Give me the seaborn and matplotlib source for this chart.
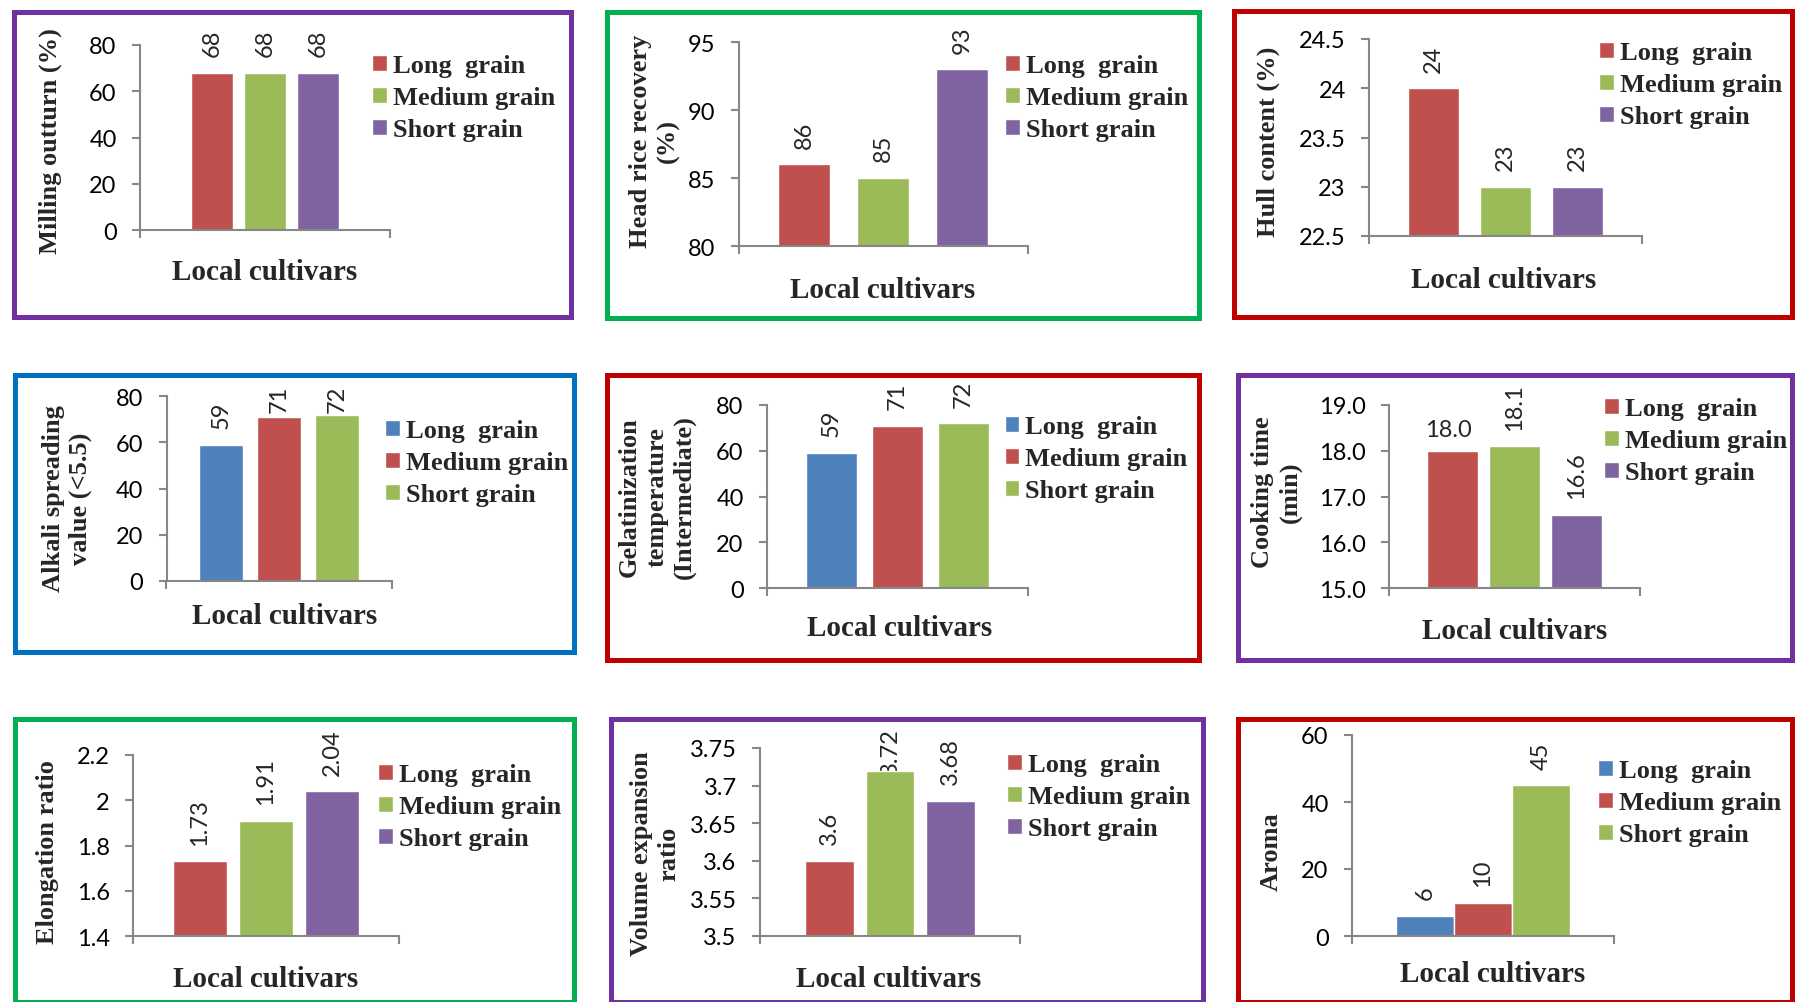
import numpy as np
import pandas as pd
import matplotlib
matplotlib.use("Agg")
import matplotlib.pyplot as plt
from matplotlib.patches import Rectangle
import seaborn as sns

# ---------------------------------------------------------------- data
grain_types = ["Long  grain", "Medium grain", "Short grain"]
cultivar = "Local cultivars"

milling_outturn = [68, 68, 68]
head_rice_recovery = [86, 85, 93]
hull_content = [24, 23, 23]
alkali_spreading = [59, 71, 72]
gelatinization_temp = [59, 71, 72]
cooking_time = [18.0, 18.1, 16.6]
elongation_ratio = [1.73, 1.91, 2.04]
volume_expansion = [3.60, 3.72, 3.68]
aroma = [6, 10, 45]

# ---------------------------------------------------------------- style
W, H, DPI = 1795, 1003, 100
RED, GREEN, PURPLE, BLUE = "#C0504D", "#9BBB59", "#8064A2", "#4F81BD"
PAL_A = [RED, GREEN, PURPLE]
PAL_B = [BLUE, RED, GREEN]
FR_PURPLE, FR_GREEN, FR_RED, FR_BLUE = "#7030A0", "#00B050", "#C00000", "#0070C0"
AXIS_GREY = "#878787"

sns.set_style("white")
plt.rcParams["font.family"] = ["Lato", "DejaVu Sans"]
SERIF = dict(family=["Liberation Serif", "DejaVu Serif"], weight="bold")

# geometry in pixels (x from left, y from top)
panels = [
    dict(values=milling_outturn, ylabel="Milling outturn (%)", pal=PAL_A,
         yr=(0, 80, 20), tfmt="{:g}", lfmt="{:g}", frame=(14, 13, 571, 318), fc=FR_PURPLE,
         ax=(140, 46, 390, 231), width=0.636, gap=0.21, leg=(372, 65),
         ylab=(50.5, 141.5), xlab=(265, 273)),
    dict(values=head_rice_recovery, ylabel="Head rice recovery\n(%)", pal=PAL_A,
         yr=(80, 95, 5), tfmt="{:g}", lfmt="{:g}", frame=(607, 13, 1199, 319), fc=FR_GREEN,
         ax=(738.5, 43, 1027.5, 247), width=0.82, gap=0.35, leg=(1005, 65),
         ylab=(654.5, 141), xlab=(883, 290)),
    dict(values=hull_content, ylabel="Hull content (%)", pal=PAL_A,
         yr=(22.5, 24.5, 0.5), tfmt="{:g}", lfmt="{:g}", frame=(1234, 12, 1792, 318), fc=FR_RED,
         ax=(1369, 40, 1642, 237), width=0.79, gap=0.28, leg=(1599, 52),
         ylab=(1268, 142), xlab=(1504, 280)),
    dict(values=alkali_spreading, ylabel="Alkali spreading\nvalue (<5.5)", pal=PAL_B,
         yr=(0, 80, 20), tfmt="{:g}", lfmt="{:g}", frame=(15, 376, 574, 653), fc=FR_BLUE,
         ax=(166.5, 397, 392, 582), width=0.77, gap=0.24, leg=(385, 430),
         ylab=(67, 499), xlab=(285, 617), ceiling=11),
    dict(values=gelatinization_temp, ylabel="Gelatinization\ntemperature\n(Intermediate)", pal=PAL_B,
         yr=(0, 80, 20), tfmt="{:g}", lfmt="{:g}", frame=(607, 376, 1199, 661), fc=FR_RED,
         ax=(767, 406, 1027.5, 589), width=0.76, gap=0.23, leg=(1004.5, 426),
         ylab=(657, 497), xlab=(899.5, 628)),
    dict(values=cooking_time, ylabel="Cooking time\n(min)", pal=PAL_A,
         yr=(15, 19, 1), tfmt="{:.1f}", lfmt="{:.1f}", frame=(1238, 376, 1792, 661), fc=FR_PURPLE,
         ax=(1389, 406, 1640, 589), width=0.74, gap=0.18, leg=(1604, 408),
         ylab=(1276.5, 492), xlab=(1515, 632), flat=(0,)),
    dict(values=elongation_ratio, ylabel="Elongation ratio", pal=PAL_A,
         yr=(1.4, 2.2, 0.2), tfmt="{:g}", lfmt="{:.2f}", frame=(15, 720, 574, 1003), fc=FR_GREEN,
         ax=(133, 756, 399, 937), width=0.745, gap=0.18, leg=(378, 774),
         ylab=(48, 852), xlab=(265.5, 980)),
    dict(values=volume_expansion, ylabel="Volume expansion\nratio", pal=PAL_A,
         yr=(3.5, 3.75, 0.05), tfmt="{:g}", lfmt="{:g}", frame=(611, 720, 1203, 1003), fc=FR_PURPLE,
         ax=(760, 749, 1020, 937), width=0.70, gap=0.20, leg=(1007, 764),
         ylab=(655.5, 854), xlab=(889, 980), ceiling=21),
    dict(values=aroma, ylabel="Aroma", pal=PAL_B,
         yr=(0, 60, 20), tfmt="{:g}", lfmt="{:g}", frame=(1238, 720, 1792, 1003), fc=FR_RED,
         ax=(1352, 736, 1614, 937), width=0.664, gap=0.0, leg=(1598, 770),
         ylab=(1271.5, 852), xlab=(1492.5, 975)),
]


def fx(x):
    return x / W


def fy(y):
    return 1 - y / H


fig = plt.figure(figsize=(W / DPI, H / DPI), dpi=DPI, facecolor="white")
renderer = fig.canvas.get_renderer()
PX2PT = 72.0 / DPI
LABEL_SIZE = 17
LABEL_GAP = 12

for p in panels:
    l, t, r, b = p["ax"]
    ax = fig.add_axes([fx(l), fy(b), (r - l) / W, (b - t) / H])

    df = pd.DataFrame({"cultivar": [cultivar] * 3, "grain": grain_types, "value": p["values"]})
    sns.barplot(data=df, x="cultivar", y="value", hue="grain", hue_order=grain_types,
                palette=p["pal"], width=p["width"], gap=p["gap"], saturation=1,
                errorbar=None, ax=ax, zorder=1)

    lo, hi, step = p["yr"]
    ticks = np.round(np.arange(lo, hi + step / 2, step), 6)
    ax.set_ylim(lo, hi)
    ax.set_yticks(ticks)
    ax.set_yticklabels([p["tfmt"].format(v) for v in ticks])
    ax.set_xlim(-0.5, 0.5)
    ax.set_xticks([-0.5, 0.5])
    ax.set_xticklabels(["", ""])

    for side in ("top", "right"):
        ax.spines[side].set_visible(False)
    for side in ("left", "bottom"):
        ax.spines[side].set_color(AXIS_GREY)
        ax.spines[side].set_linewidth(1.5)
    ax.tick_params(axis="y", direction="out", length=5.8, width=1.5, color=AXIS_GREY,
                   pad=11, labelsize=17, labelcolor="black", left=True)
    ax.tick_params(axis="x", direction="out", length=5.8, width=1.5, color=AXIS_GREY,
                   bottom=True)

    # axis titles
    ax.set_xlabel(cultivar, fontsize=21, va="center", **SERIF)
    ax.xaxis.set_label_coords(fx(p["xlab"][0]), fy(p["xlab"][1]), transform=fig.transFigure)
    ax.set_ylabel(p["ylabel"], fontsize=19, va="center", ha="center", linespacing=1.25, **SERIF)
    ax.yaxis.set_label_coords(fx(p["ylab"][0]), fy(p["ylab"][1]), transform=fig.transFigure)

    # legend to the right of the bars
    sns.move_legend(ax, "upper left", bbox_to_anchor=(fx(p["leg"][0]), fy(p["leg"][1] - 10)),
                    bbox_transform=fig.transFigure, frameon=False, title="",
                    prop=dict(size=19, **SERIF), borderpad=0, borderaxespad=0,
                    handlelength=0.56, handleheight=0.56, handletextpad=0.22,
                    labelspacing=0.35)

    # value labels above the bars
    flat = p.get("flat", ())
    ceiling = p.get("ceiling")
    ax_top = ax.get_window_extent(renderer).y1
    for i, cont in enumerate(ax.containers):
        bar = cont.patches[0]
        v = cont.datavalues[0]
        xc = bar.get_x() + bar.get_width() / 2
        txt = p["lfmt"].format(v)
        if i in flat:
            ax.annotate(txt, (xc, v), xytext=(-3, 8), textcoords="offset points",
                        ha="center", va="bottom", fontsize=LABEL_SIZE, zorder=0.5,
                        annotation_clip=False)
            continue
        ann = ax.annotate(txt, (xc, v), xytext=(0, LABEL_GAP), textcoords="offset points",
                          ha="center", va="bottom", rotation=90, fontsize=LABEL_SIZE,
                          zorder=0.5, annotation_clip=False)
        if ceiling is not None:
            bb = ann.get_window_extent(renderer)
            limit = ax_top + ceiling
            if bb.y1 > limit:
                ann.xyann = (0, LABEL_GAP - (bb.y1 - limit) * PX2PT)

    # coloured frame around the panel
    fl, ft, fr, fb = p["frame"]
    fig.add_artist(Rectangle((fx(fl), fy(fb)), (fr - fl) / W, (fb - ft) / H,
                             transform=fig.transFigure, fill=False,
                             edgecolor=p["fc"], linewidth=5 * PX2PT, zorder=5))

fig.savefig("out.png", dpi=DPI, facecolor="white")
